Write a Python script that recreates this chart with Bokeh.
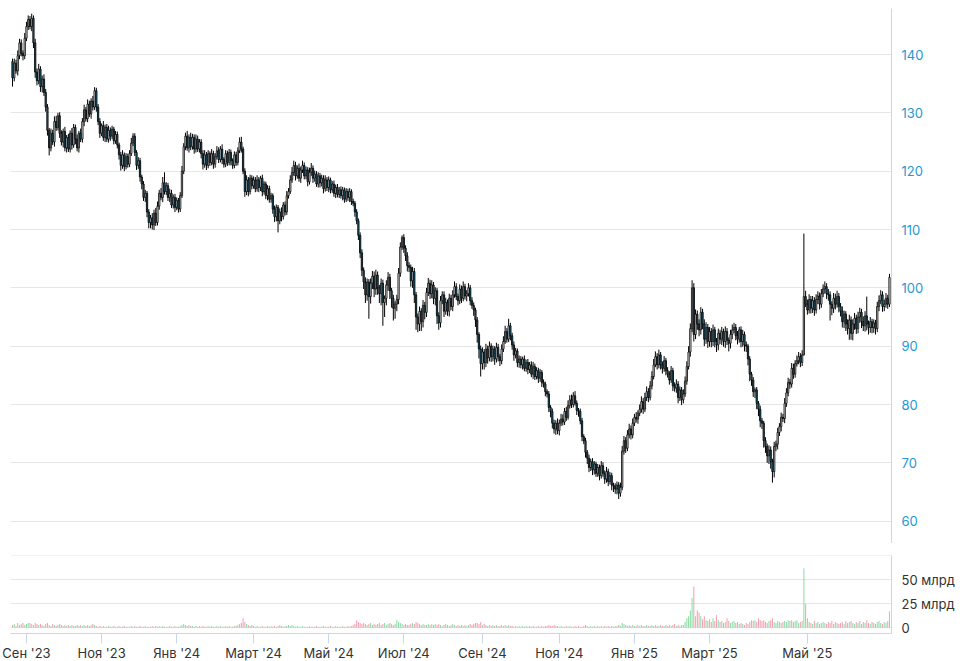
import pandas as pd
from bokeh.plotting import figure
from bokeh.layouts import column
from bokeh.models import Range1d, FixedTicker, ColumnDataSource
from bokeh.embed import file_html
from bokeh.resources import INLINE

# ---------------- data ----------------
first_open = 138.8
close = [
    136.0, 138.5, 137.2, 139.8, 142.0, 140.2, 139.8, 142.8, 144.8, 146.0,
    144.8, 146.2, 142.0, 137.0, 135.5, 137.5, 134.5, 135.8, 133.5,
    131.0, 127.0, 124.0, 126.5, 125.0, 128.5, 127.5, 129.5, 126.5, 125.0,
    126.8, 124.0, 125.8, 123.8, 126.5, 124.5, 127.5, 125.5, 124.0, 126.5,
    125.5, 128.5, 130.5, 129.0, 131.5, 129.8, 132.0, 131.0, 133.8, 131.0,
    128.5, 126.5, 127.8, 125.8, 127.5, 125.5, 127.0, 126.0, 127.2, 125.2,
    126.3, 124.5, 122.8, 121.0, 122.8, 120.8, 122.5, 121.2, 123.0, 124.8,
    126.0, 123.2, 121.0, 121.8, 119.0, 117.8, 115.5, 116.2, 113.0, 111.2,
    112.0, 110.8, 112.8, 111.2, 114.0, 116.2, 115.5, 118.0, 116.5, 117.5,
    115.5, 116.2, 114.2, 115.5, 113.8, 115.0, 113.5, 115.8, 120.0,
    124.2, 126.0, 124.0, 125.8, 124.2, 125.8, 123.8, 125.5, 123.8, 125.0,
    123.0, 121.2, 122.8, 121.0, 123.0, 121.5, 123.0, 121.2, 122.5, 123.5,
    122.0, 123.8, 122.0, 121.2, 123.0, 121.5, 123.2, 121.8, 121.0, 122.8,
    121.5, 123.5, 125.0, 123.8, 120.0, 116.5, 118.5, 116.5, 118.8, 117.5,
    118.5, 117.0, 118.5, 117.2, 118.8, 116.5, 117.8, 115.8, 117.0, 115.2,
    115.8, 113.5, 112.2, 113.8, 111.5, 113.0, 112.2, 114.2, 113.0, 115.8,
    116.5, 118.5, 119.8, 121.0, 119.2, 120.5, 118.8, 120.2, 121.0, 119.2,
    120.2, 118.2, 119.8, 120.5, 118.8, 119.5, 117.8, 119.2, 118.0,
    118.8, 117.0, 118.5, 117.2, 118.5, 116.8, 117.8, 116.2, 117.2, 116.0,
    116.8, 115.8, 116.8, 115.2, 116.5, 115.5, 116.5, 114.8, 114.5, 113.0,
    111.5, 109.0, 106.0, 103.0, 101.0, 98.8, 101.0, 98.5, 100.8, 102.0,
    99.8, 102.2, 100.0, 99.0, 100.8, 97.5, 98.2, 100.5, 101.8, 99.5,
    98.2, 96.5, 97.2, 98.0, 102.5, 107.0, 108.6, 106.8, 105.5, 103.8,
    103.5, 101.2, 102.8, 98.8, 95.0, 93.8, 96.0, 94.2, 97.0, 95.8,
    99.2, 100.8, 99.0, 100.5, 98.2, 99.5, 95.2, 94.0, 97.8, 98.8,
    96.0, 97.5, 96.0, 98.2, 96.8, 98.8, 100.2, 98.5, 97.8,
    99.8, 98.2, 100.2, 98.6, 99.0, 100.0, 97.8, 97.0, 96.2, 94.5,
    92.0, 89.5, 87.0, 89.0, 87.2, 89.5, 88.0, 90.0, 88.2, 89.5,
    87.8, 89.8, 88.2, 87.5, 89.5, 90.8, 92.5, 91.2, 93.5, 91.8,
    90.2, 88.5, 89.2, 87.2, 87.8, 86.8, 87.8, 86.2, 87.2, 86.0,
    86.8, 85.2, 86.5, 84.8, 85.8, 84.5, 85.5, 83.8, 83.5, 82.2,
    81.8, 79.5, 78.8, 76.8, 75.8, 76.8, 75.5, 76.8, 77.5, 77.0,
    78.8, 77.8, 79.8, 80.8, 80.0, 81.5, 80.2, 79.0, 78.8, 77.2,
    74.5, 73.8, 71.8, 70.8, 69.2, 70.2, 68.8, 69.8, 68.2,
    69.2, 67.8, 69.5, 68.2, 67.2, 68.5, 66.8, 67.8, 66.2, 66.0,
    65.5, 66.2, 64.8, 65.8, 72.0, 73.8, 72.5, 74.8, 75.8, 74.8,
    76.8, 77.8, 77.5, 78.5, 79.2, 80.5, 79.2, 81.2, 82.2, 81.2,
    83.2, 84.8, 86.8, 88.2, 86.8, 88.5, 86.8, 86.2, 87.5, 85.8,
    85.2, 84.2, 85.8, 83.2, 82.8, 83.5, 81.2, 82.5, 80.8, 81.8,
    84.0, 86.5, 89.0, 93.0, 100.0, 92.0, 95.5, 93.8, 92.8, 95.8,
    93.8, 91.2, 93.2, 90.8, 92.5, 90.8, 92.8, 90.8, 90.2, 92.2,
    91.2, 92.5, 90.8, 92.5, 91.0, 90.5, 92.0, 92.8, 93.2,
    91.8, 91.2, 92.8, 90.8, 92.0, 90.2, 90.0, 87.8, 85.2, 84.2,
    82.2, 82.5, 80.2, 79.2, 77.2, 76.8, 73.8, 72.8, 71.2, 72.2,
    70.2, 68.5, 72.8, 73.2, 75.2, 76.2, 77.8, 77.6, 80.2, 82.0,
    83.8, 83.5, 86.2, 85.2, 87.0, 87.5, 88.2, 87.2, 88.5, 98.5,
    97.2, 96.2, 98.0, 96.5, 97.8, 96.2, 98.0, 98.6, 97.2, 99.0,
    99.8, 100.2, 99.0, 98.8, 97.2, 96.5, 98.2, 97.2, 98.5, 96.8,
    96.0, 94.2, 95.5, 93.8, 93.0, 94.5, 92.2, 93.8, 94.8,
    93.0, 95.0, 95.8, 94.2, 93.5, 95.2, 93.8, 93.2, 94.2, 93.2,
    94.0, 93.0, 96.8, 97.8, 98.8, 96.8, 97.2, 98.2, 97.2, 101.8,
]
# upper / lower shadow beyond the body, in tenths of a rouble
wick_up = [
    5, 8, 6, 9, 7, 6, 5, 9, 8, 7,
    6, 8, 5, 7, 6, 9, 5, 6, 8,
    6, 5, 4, 8, 6, 9, 10, 5, 6, 5,
    5, 8, 4, 6, 5, 9, 6, 5, 8, 4,
    8, 6, 9, 5, 8, 6, 5, 9, 6, 5,
    5, 6, 4, 8, 5, 6, 8, 5, 6, 4,
    6, 5, 4, 5, 8, 4, 6, 5, 6, 9,
    5, 5, 4, 6, 5, 4, 5, 6, 4, 5,
    5, 8, 6, 9, 8, 6, 9, 10, 18, 6,
    5, 8, 6, 5, 6, 5, 4, 6, 9,
    6, 6, 9, 5, 8, 6, 5, 8, 6, 5,
    5, 6, 8, 5, 6, 4, 8, 5, 6, 8,
    6, 5, 8, 4, 6, 5, 6, 5, 4, 6,
    5, 6, 8, 9, 4, 5, 8, 5, 6, 5,
    6, 5, 8, 5, 4, 6, 5, 4, 6, 5,
    5, 4, 6, 5, 4, 6, 8, 5, 6, 8,
    6, 8, 9, 8, 6, 5, 8, 6, 8, 5,
    6, 5, 8, 9, 5, 6, 5, 6, 5,
    6, 5, 8, 5, 6, 4, 5, 6, 5, 6,
    5, 6, 5, 4, 6, 5, 6, 4, 5, 4,
    5, 4, 5, 6, 5, 8, 6, 5, 8, 9,
    8, 9, 6, 5, 8, 6, 5, 8, 9, 6,
    5, 6, 5, 8, 9, 8, 4, 6, 5, 6,
    6, 5, 8, 6, 5, 6, 8, 5, 9, 6,
    8, 9, 6, 8, 5, 6, 5, 6, 8, 6,
    6, 8, 5, 8, 6, 8, 9, 6, 5,
    8, 6, 9, 5, 6, 8, 5, 6, 5, 4,
    5, 4, 6, 8, 5, 9, 6, 8, 5, 6,
    5, 8, 6, 5, 8, 9, 10, 6, 12, 5,
    5, 6, 5, 4, 6, 5, 4, 6, 5, 6,
    5, 6, 8, 5, 6, 5, 6, 4, 5, 4,
    4, 5, 4, 5, 6, 5, 8, 6, 9, 8,
    6, 8, 9, 8, 9, 6, 8, 5, 4, 5,
    5, 4, 5, 4, 6, 5, 6, 5, 4,
    6, 5, 8, 6, 5, 8, 5, 6, 5, 4,
    5, 6, 5, 8, 9, 8, 6, 8, 9, 6,
    8, 6, 9, 5, 8, 9, 6, 8, 9, 6,
    8, 9, 10, 9, 6, 9, 5, 6, 8, 5,
    6, 5, 8, 5, 6, 8, 5, 6, 5, 8,
    8, 9, 10, 9, 13, 8, 8, 6, 8, 9,
    6, 8, 9, 6, 8, 6, 9, 5, 6, 8,
    6, 8, 5, 9, 6, 5, 8, 9, 8,
    6, 8, 5, 6, 8, 5, 6, 4, 5, 4,
    5, 4, 5, 4, 6, 5, 4, 6, 5, 8,
    6, 5, 8, 6, 8, 6, 8, 6, 9, 8,
    8, 6, 9, 8, 6, 9, 8, 6, 8, 108,
    10, 8, 9, 6, 8, 6, 9, 8, 6, 8,
    8, 9, 6, 8, 6, 5, 9, 8, 10, 6,
    6, 8, 6, 5, 8, 9, 6, 8, 9,
    6, 9, 8, 6, 9, 8, 33, 6, 8, 5,
    6, 5, 8, 9, 8, 6, 8, 9, 6, 6,
]
wick_dn = [
    15, 6, 5, 8, 6, 5, 8, 6, 5, 6,
    5, 8, 9, 10, 8, 6, 9, 10, 6,
    8, 9, 13, 6, 5, 8, 6, 5, 8, 6,
    9, 6, 8, 5, 6, 8, 5, 9, 6, 8,
    5, 6, 8, 5, 6, 5, 8, 6, 5, 8,
    6, 8, 5, 6, 8, 5, 6, 8, 5, 6,
    5, 6, 8, 9, 6, 8, 5, 6, 5, 4,
    5, 6, 8, 6, 8, 9, 6, 8, 9, 10,
    10, 8, 9, 6, 5, 6, 5, 8, 5, 6,
    6, 8, 5, 6, 8, 5, 6, 5, 4,
    5, 6, 5, 8, 6, 5, 8, 6, 5, 6,
    8, 9, 6, 8, 5, 6, 5, 8, 6, 5,
    6, 5, 8, 6, 5, 6, 5, 8, 6, 5,
    6, 5, 4, 6, 5, 9, 6, 8, 5, 6,
    5, 6, 5, 8, 6, 8, 5, 6, 8, 6,
    6, 8, 9, 8, 20, 6, 8, 5, 6, 5,
    5, 4, 5, 6, 8, 5, 6, 8, 5, 6,
    6, 8, 5, 6, 8, 6, 5, 6, 8,
    6, 8, 5, 6, 8, 6, 5, 6, 8, 5,
    6, 5, 8, 6, 5, 6, 8, 6, 5, 8,
    6, 8, 9, 10, 12, 14, 10, 38, 12, 10,
    14, 10, 12, 16, 20, 40, 25, 12, 10, 14,
    16, 21, 18, 12, 8, 6, 5, 8, 9, 10,
    8, 10, 12, 14, 22, 14, 12, 16, 10, 12,
    8, 6, 9, 8, 10, 12, 14, 12, 8, 6,
    10, 6, 8, 9, 6, 8, 5, 6, 8,
    6, 8, 5, 6, 9, 5, 8, 6, 10, 12,
    14, 16, 22, 10, 12, 8, 10, 6, 9, 8,
    10, 6, 8, 9, 6, 5, 4, 6, 5, 8,
    8, 10, 6, 8, 9, 6, 8, 5, 6, 8,
    6, 5, 8, 6, 5, 8, 6, 8, 6, 8,
    6, 8, 10, 9, 8, 10, 6, 8, 5, 6,
    5, 6, 4, 5, 6, 5, 4, 8, 9, 6,
    8, 6, 9, 10, 8, 6, 9, 8, 6,
    6, 8, 5, 6, 8, 6, 8, 5, 9, 10,
    8, 9, 10, 6, 5, 6, 8, 5, 6, 8,
    6, 5, 6, 8, 5, 6, 8, 5, 6, 8,
    5, 6, 5, 4, 8, 6, 8, 9, 6, 8,
    6, 8, 5, 9, 6, 8, 10, 6, 9, 6,
    5, 6, 5, 8, 6, 12, 8, 10, 11, 8,
    9, 12, 8, 11, 9, 10, 8, 10, 12, 9,
    8, 10, 9, 11, 8, 14, 9, 8, 6,
    8, 9, 6, 10, 9, 11, 10, 11, 12, 10,
    9, 11, 10, 12, 11, 10, 12, 11, 12, 14,
    12, 19, 10, 8, 9, 6, 8, 6, 8, 6,
    6, 8, 6, 8, 6, 5, 6, 8, 6, 1,
    5, 8, 6, 9, 8, 10, 6, 8, 9, 6,
    6, 8, 9, 10, 28, 12, 8, 9, 6, 10,
    9, 10, 11, 12, 10, 19, 11, 12, 10,
    9, 8, 10, 11, 9, 10, 11, 12, 9, 10,
    9, 10, 6, 8, 6, 9, 8, 6, 8, 5,
]
# traded volume, billions
volume = [
    3, 4, 2, 5, 3, 4, 5, 3, 4, 5,
    5, 4, 3, 5, 4, 3, 4, 3, 2,
    4, 5, 3, 2, 4, 3, 2, 3, 4, 3,
    2, 3, 2, 3, 2, 3, 2, 2, 3, 2,
    3, 2, 3, 2, 3, 2, 3, 4, 3, 2,
    1, 2, 1, 2, 1, 1, 2, 1, 1, 2,
    1, 1, 2, 1, 1, 2, 1, 1, 1, 2,
    1, 2, 1, 1, 2, 1, 1, 2, 1, 1,
    1, 2, 1, 2, 1, 2, 1, 2, 1, 1,
    1, 2, 1, 1, 2, 1, 1, 2, 3,
    4, 3, 2, 3, 2, 2, 1, 2, 1, 2,
    1, 2, 1, 1, 2, 1, 2, 1, 1, 2,
    1, 2, 1, 1, 2, 1, 2, 1, 1, 2,
    2, 3, 4, 5, 10, 6, 4, 3, 2, 3,
    2, 1, 2, 1, 1, 2, 1, 1, 2, 1,
    2, 1, 2, 1, 2, 3, 2, 1, 2, 2,
    3, 2, 3, 2, 1, 2, 1, 1, 2, 1,
    1, 1, 2, 1, 1, 1, 2, 1, 1,
    1, 2, 1, 1, 1, 2, 1, 1, 2, 1,
    1, 1, 2, 1, 1, 2, 1, 2, 3, 4,
    8, 6, 5, 4, 5, 4, 3, 4, 5, 3,
    4, 3, 4, 5, 3, 4, 5, 3, 4, 5,
    4, 3, 4, 8, 6, 5, 4, 3, 4, 3,
    3, 4, 5, 4, 6, 5, 4, 3, 4, 3,
    3, 4, 3, 4, 3, 4, 3, 4, 3, 2,
    3, 4, 3, 2, 3, 4, 3, 2, 3,
    2, 3, 2, 3, 2, 3, 4, 3, 4, 5,
    5, 4, 6, 3, 4, 3, 2, 3, 2, 3,
    2, 3, 2, 2, 3, 2, 3, 2, 3, 2,
    2, 1, 2, 1, 2, 1, 2, 1, 2, 1,
    2, 1, 2, 1, 1, 2, 1, 2, 1, 2,
    2, 3, 2, 2, 3, 2, 2, 1, 2, 1,
    1, 2, 1, 2, 1, 1, 2, 1, 2, 1,
    1, 2, 3, 2, 1, 2, 1, 2, 1,
    2, 1, 2, 1, 2, 1, 2, 1, 2, 1,
    2, 2, 3, 2, 5, 4, 3, 2, 3, 2,
    3, 2, 2, 3, 2, 3, 2, 2, 3, 2,
    2, 3, 2, 3, 2, 2, 3, 2, 2, 3,
    2, 3, 2, 3, 4, 2, 3, 2, 3, 3,
    6, 10, 12, 18, 31, 43, 12, 18, 16, 12,
    9, 12, 8, 7, 9, 6, 10, 7, 13, 8,
    6, 7, 5, 6, 10, 7, 5, 6, 7,
    5, 6, 4, 5, 4, 3, 5, 4, 6, 8,
    7, 8, 6, 10, 8, 7, 8, 6, 5, 7,
    8, 10, 6, 5, 7, 6, 5, 6, 7, 6,
    8, 7, 8, 6, 7, 8, 5, 6, 7, 62,
    25, 10, 6, 5, 4, 7, 5, 6, 4, 5,
    6, 5, 4, 6, 5, 7, 4, 6, 5, 4,
    5, 6, 4, 7, 5, 6, 7, 5, 4,
    6, 5, 7, 4, 6, 5, 8, 5, 4, 6,
    5, 4, 6, 7, 5, 4, 6, 5, 7, 17,
]
assert len(close) == len(wick_up) == len(wick_dn) == len(volume) == 503

price_ticks = [60, 70, 80, 90, 100, 110, 120, 130, 140]
volume_ticks = [0, 25, 50]
volume_grid = [0, 25, 50, 75]
month_names = {1: "Янв", 3: "Март", 5: "Май", 7: "Июл", 9: "Сен", 11: "Ноя"}

# trading sessions (weekdays; weekend sessions appear from March 2025)
d1 = list(pd.bdate_range("2023-08-22", "2025-02-28"))
d2 = [d for d in pd.date_range("2025-03-01", "2025-03-31") if d.dayofweek != 6]
d3 = list(pd.date_range("2025-04-01", "2025-06-30"))
dates = (d1 + d2 + d3)[:len(close)]

n = len(close)
idx = list(range(n))
opens = [first_open] + close[:-1]
up = [c >= o for o, c in zip(opens, close)]
top = [max(o, c) for o, c in zip(opens, close)]
bot = [min(o, c) for o, c in zip(opens, close)]
high = [t + w / 10 for t, w in zip(top, wick_up)]
low = [b - w / 10 for b, w in zip(bot, wick_dn)]

DOWN_FILL = "#1f6e8c"
UP_FILL = "#ffffff"
src = ColumnDataSource(dict(
    x=idx, top=top, bot=bot, high=high, low=low, vol=volume,
    fill=[UP_FILL if u else DOWN_FILL for u in up],
    vcol=["#8ddca6" if u else "#f3a1b4" for u in up],
))

month_ticks = []
labels = {}
for i, d in enumerate(dates):
    if i > 0 and d.month != dates[i - 1].month and d.month in month_names:
        month_ticks.append(i)
        labels[i] = f"{month_names[d.month]} '{d.year % 100:02d}"

FONT = "Inter"
AXIS_COL = "#ccd6eb"
GRID_COL = "#e6e6e6"

xr = Range1d(-1.145, 503.15)

p = figure(frame_width=881, frame_height=535, x_range=xr,
           y_range=Range1d(56.17, 147.89), output_backend="svg",
           toolbar_location=None, x_axis_location=None, y_axis_location="right",
           min_border_left=10, min_border_right=0, min_border_top=8,
           min_border_bottom=0)
p.outline_line_color = None
p.xgrid.visible = False
p.ygrid.grid_line_color = GRID_COL
p.yaxis.ticker = FixedTicker(ticks=price_ticks)
p.ygrid.ticker = FixedTicker(ticks=price_ticks)
p.yaxis.axis_line_color = AXIS_COL
p.yaxis.major_tick_line_color = None
p.yaxis.minor_tick_line_color = None
p.yaxis.major_label_text_color = "#2598d2"
p.yaxis.major_label_text_font = FONT
p.yaxis.major_label_text_font_size = "13px"
p.yaxis.major_label_standoff = 4

p.segment(x0="x", y0="high", x1="x", y1="low", source=src,
          line_color="black", line_width=1)
p.vbar(x="x", width=0.75, top="top", bottom="bot", source=src,
       fill_color="fill", line_color="black", line_width=0.8)

v = figure(frame_width=881, frame_height=78, x_range=xr,
           y_range=Range1d(-5.9, 75.3), output_backend="svg",
           toolbar_location=None, y_axis_location="right",
           min_border_left=10, min_border_right=0, min_border_top=12,
           min_border_bottom=0)
v.outline_line_color = None
v.xgrid.visible = False
v.ygrid.grid_line_color = GRID_COL
v.ygrid.ticker = FixedTicker(ticks=volume_grid)
v.yaxis.ticker = FixedTicker(ticks=volume_ticks)
v.yaxis.major_label_overrides = {t: ("0" if t == 0 else f"{t} млрд") for t in volume_ticks}
v.yaxis.axis_line_color = AXIS_COL
v.yaxis.major_tick_line_color = None
v.yaxis.minor_tick_line_color = None
v.yaxis.major_label_text_color = "#333333"
v.yaxis.major_label_text_font = FONT
v.yaxis.major_label_text_font_size = "13px"
v.yaxis.major_label_standoff = 4

v.xaxis.ticker = FixedTicker(ticks=month_ticks)
v.xaxis.major_label_overrides = labels
v.xaxis.axis_line_color = AXIS_COL
v.xaxis.major_tick_line_color = AXIS_COL
v.xaxis.major_tick_out = 10
v.xaxis.major_tick_in = 0
v.xaxis.minor_tick_line_color = None
v.xaxis.major_label_text_color = "#333333"
v.xaxis.major_label_text_font = FONT
v.xaxis.major_label_text_font_size = "13px"
v.xaxis.major_label_standoff = 1

v.vbar(x="x", width=0.6, top="vol", bottom=0, source=src,
       fill_color="vcol", line_color=None)

layout = column(p, v, spacing=0)
html = file_html(layout, INLINE)
html = html.replace("<head>", "<head><style>html,body{overflow:hidden;}</style>", 1)
open("out.html", "w").write(html)
